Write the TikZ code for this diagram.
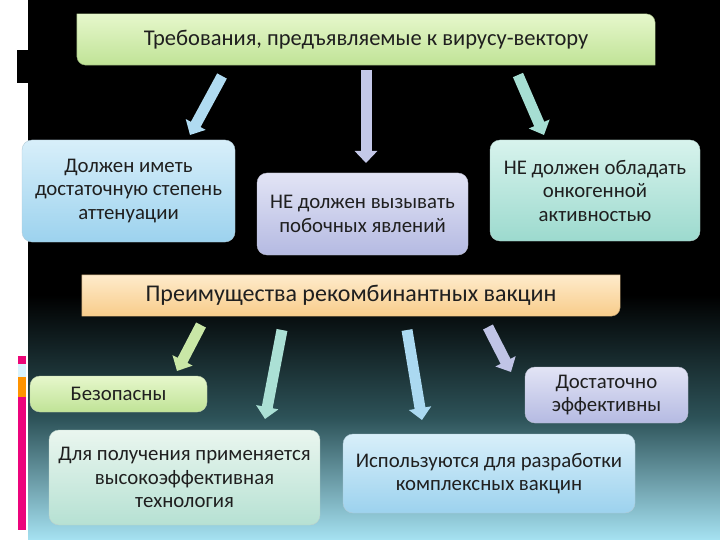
\documentclass[tikz,border=0pt]{standalone}
\usepackage{fontspec}
\setmainfont{Carlito}
\usetikzlibrary{arrows.meta,backgrounds}
\definecolor{grnT}{HTML}{E6F7CC}\definecolor{grnB}{HTML}{C0E396}
\definecolor{bluT}{HTML}{D8EFFA}\definecolor{bluB}{HTML}{9CD2EE}
\definecolor{lavT}{HTML}{E2E4F5}\definecolor{lavB}{HTML}{B5BAE2}
\definecolor{teaT}{HTML}{D8F3ED}\definecolor{teaB}{HTML}{9CDACE}
\definecolor{orgT}{HTML}{FEEBCB}\definecolor{orgB}{HTML}{F8CC8A}
\definecolor{mntT}{HTML}{EAF6EF}\definecolor{mntB}{HTML}{B6E1D3}
\definecolor{skyB}{HTML}{A6E2F2}
\tikzset{
  box/.style={rounded corners=10pt,align=center,inner sep=0pt,text=black!88,draw=#1B!80!black!60,
    top color=#1T,bottom color=#1B,font=\fontsize{20.8}{23.5}\selectfont},
  bar/.style={align=center,inner sep=0pt,text=black!88},
  fat/.style={line width=11pt,draw=#1,-{Triangle[length=12pt,width=22pt]}}
}
\begin{document}
\begin{tikzpicture}[x=1pt,y=-1pt]
\useasboundingbox (0,0) rectangle (720,540);
% slide
\begin{scope}[on background layer]
  \fill[white] (0,0) rectangle (28,540);
  \fill[black] (28,0) rectangle (720,540);
  \shade[top color=black,bottom color=skyB,middle color={rgb,255:red,45;green,82;blue,88}] (28,295) rectangle (720,540);
  \fill[black] (17,50) rectangle (28,83);
  \fill[magenta!80!red] (18,356) rectangle (26,364);
  \fill[cyan!15] (18,364) rectangle (26,377);
  \fill[orange!85!yellow] (18,377) rectangle (26,397);
  \fill[magenta!85!red] (18,397) rectangle (26,530);
\end{scope}
% requirements
\node[bar,minimum width=578,minimum height=51,font=\fontsize{22.5}{26}\selectfont] (req) at (366,39.5)
  {Требования, предъявляемые к вирусу-вектору};
\node[box=blu,minimum width=213,minimum height=102] (atten) at (128.5,191)
  {Должен иметь\\достаточную степень\\аттенуации};
\node[box=lav,minimum width=211,minimum height=82] (side) at (362.5,214)
  {НЕ должен вызывать\\побочных явлений};
\node[box=tea,minimum width=210,minimum height=101] (onco) at (595,190.5)
  {НЕ должен обладать\\онкогенной\\активностью};
% advantages
\node[bar,minimum width=538,minimum height=41,font=\fontsize{24}{28}\selectfont] (adv) at (351,295.5)
  {Преимущества рекомбинантных вакцин};
\node[box=grn,minimum width=177,minimum height=36] (safe) at (118.5,394) {Безопасны};
\node[box=mnt,minimum width=271,minimum height=95] (tech) at (184.5,477.5)
  {Для получения применяется\\высокоэффективная\\технология};
\node[box=lav,minimum width=163,minimum height=56] (eff) at (606.5,395)
  {Достаточно\\эффективны};
\node[box=blu,minimum width=292,minimum height=79] (cplx) at (489,473.5)
  {Используются для разработки\\комплексных вакцин};
\begin{scope}[on background layer]
  \shade[top color=grnT,bottom color=grnB,draw=grnB!70!black]
    (req.west) -- (req.north west) [rounded corners=9pt] -- (req.north east) [sharp corners]
    -- (req.south east) [rounded corners=9pt] -- (req.south west) [sharp corners] -- cycle;
  \shade[top color=orgT,bottom color=orgB,draw=orgB!70!black]
    (adv.west) [sharp corners] -- (adv.north west) -- (adv.north east) [rounded corners=9pt]
    -- (adv.south east) [sharp corners] -- (adv.south west) [rounded corners=9pt] -- (adv.west) [sharp corners] -- cycle;
\end{scope}
% arrows
\coordinate (r1) at (222,76);  \coordinate (r1e) at (190,135);
\coordinate (r2) at (366,70);  \coordinate (r2e) at (366,163);
\coordinate (r3) at (518,75);  \coordinate (r3e) at (544,135);
\coordinate (v1) at (201,325); \coordinate (v1e) at (177,371);
\coordinate (v2) at (282,330); \coordinate (v2e) at (265,419);
\coordinate (v3) at (407,330); \coordinate (v3e) at (422,420);
\coordinate (v4) at (488,327); \coordinate (v4e) at (511,372);
\foreach \s/\c in {r1/bluB!80,r2/lavB!80,r3/teaB!90,v1/grnB!85,v2/teaB!85,v3/bluB!85,v4/lavB!85}
  \draw[fat=\c] (\s) -- (\s e);
\end{tikzpicture}
\end{document}
